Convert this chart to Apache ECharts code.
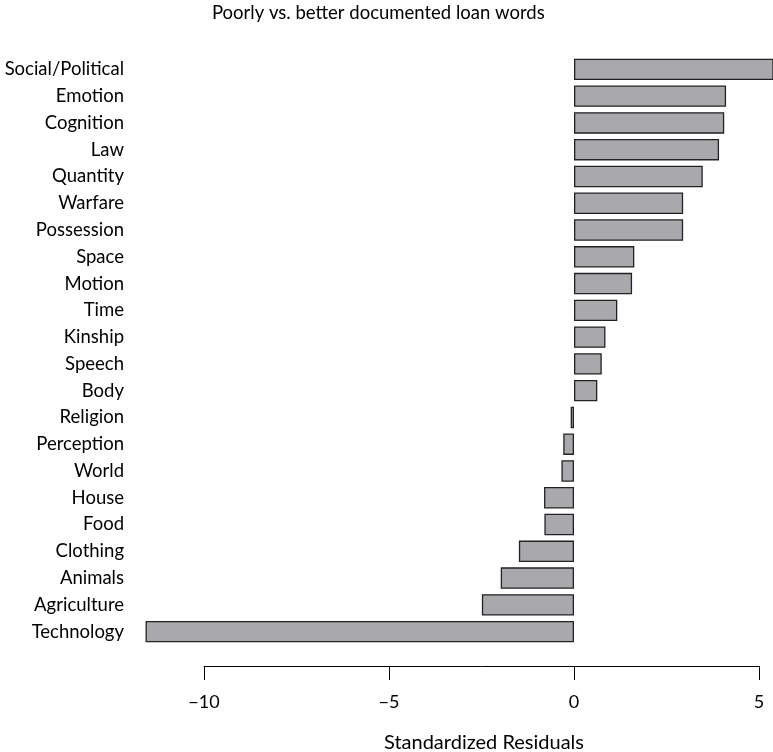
<!DOCTYPE html>
<html>
<head>
<meta charset="utf-8">
<script src="https://cdn.jsdelivr.net/npm/echarts@6/dist/echarts.min.js"></script>
<style>html,body{margin:0;padding:0;background:#fff;}#c{width:773px;height:752px;}</style>
</head>
<body>
<div id="c"></div>
<script>
const categories = ["Social/Political","Emotion","Cognition","Law","Quantity","Warfare","Possession","Space","Motion","Time","Kinship","Speech","Body","Religion","Perception","World","House","Food","Clothing","Animals","Agriculture","Technology"];
const residuals = [5.6, 4.11, 4.06, 3.92, 3.48, 2.95, 2.95, 1.63, 1.57, 1.17, 0.85, 0.75, 0.63, -0.09, -0.29, -0.34, -0.81, -0.80, -1.49, -1.98, -2.49, -11.58];
const tickValues = [-10, -5, 0, 5];
const titleText = "Poorly vs. better documented loan words";
const xLabelText = "Standardized Residuals";

const FONT = "Lato";
const chart = echarts.init(document.getElementById('c'));
chart.setOption({
  animation: false,
  backgroundColor: '#fff',
  grid: [
    {left: 130, right: 0, top: 56, height: 589},
    {left: 204, width: 555, top: 665, height: 1}
  ],
  xAxis: [
    {gridIndex: 0, type: 'value', min: -12, max: 643/37 - 12, show: false},
    {gridIndex: 1, type: 'value', min: tickValues[0], max: tickValues[tickValues.length-1], interval: 5,
     position: 'bottom',
     axisLine: {show: true, lineStyle: {color: '#000', width: 1}},
     axisTick: {show: true, length: 14, inside: false, lineStyle: {color: '#000', width: 1}},
     splitLine: {show: false},
     axisLabel: {color: '#000', fontFamily: FONT, fontSize: 18, margin: 27,
       formatter: v => (v < 0 ? '\u2212' + Math.abs(v) : String(v))}}
  ],
  yAxis: [
    {gridIndex: 0, type: 'category', data: categories, inverse: true,
     axisLine: {show: false}, axisTick: {show: false}, splitLine: {show: false},
     axisLabel: {color: '#000', fontFamily: FONT, fontSize: 18.5, margin: 6, interval: 0}},
    {gridIndex: 1, type: 'value', show: false}
  ],
  series: [
    {type: 'bar', xAxisIndex: 0, yAxisIndex: 0, data: residuals, barCategoryGap: '20%', clip: true,
     itemStyle: {color: '#a9a9ad', borderColor: '#222', borderWidth: 1.3}},
    {type: 'scatter', xAxisIndex: 1, yAxisIndex: 1, data: []}
  ],
  graphic: [
    {type: 'text', left: 212, top: 4, style: {text: titleText, fontFamily: FONT, fontSize: 18.5, fill: '#000'}},
    {type: 'text', x: 484, y: 743, style: {text: xLabelText, fontFamily: FONT, fontSize: 20, fill: '#000', textAlign: 'center', textVerticalAlign: 'middle'}}
  ]
});
</script>
</body>
</html>
